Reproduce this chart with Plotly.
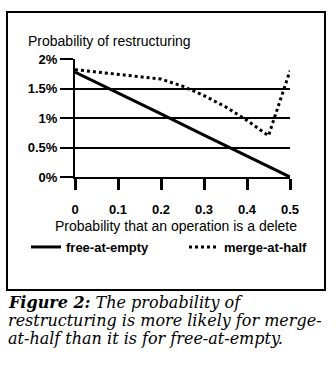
import plotly.graph_objects as go

# ---- data ----
x_free = [0, 0.1, 0.2, 0.3, 0.4, 0.5]
y_free = [0.0178, 0.0143, 0.0107, 0.0071, 0.0036, 0.0]

x_merge = [0, 0.05, 0.1, 0.15, 0.2, 0.25, 0.3, 0.35, 0.4, 0.45, 0.5]
y_merge = [0.0182, 0.0178, 0.0174, 0.0170, 0.0166, 0.0154, 0.0138, 0.0119, 0.0096, 0.0070, 0.0180]

y_ticks = [0, 0.005, 0.01, 0.015, 0.02]
y_tick_labels = ["0%", "0.5%", "1%", "1.5%", "2%"]
x_ticks = [0, 0.1, 0.2, 0.3, 0.4, 0.5]
x_tick_labels = ["0", "0.1", "0.2", "0.3", "0.4", "0.5"]

chart_title = "Probability of restructuring"
x_title = "Probability that an operation is a delete"
caption_lines = [
    "<b><i>Figure 2:</i></b><i> The probability of</i>",
    "<i>restructuring is more likely for merge-</i>",
    "<i>at-half than it is for free-at-empty.</i>",
]

# ---- layout geometry (pixels) ----
W, H = 336, 368
L, R, T, B = 75, 290, 59, 177


def px_x(p):
    return (p - L) / (R - L)


def px_y(p):
    return (B - p) / (B - T)


SANS = "Liberation Sans, Arial, sans-serif"
SERIF = "DejaVu Serif, serif"

legend_font = dict(family=SANS, size=13, color="black", weight="bold")

fig = go.Figure()
fig.add_trace(go.Scatter(x=x_free, y=y_free, mode="lines", name="free-at-empty",
                         line=dict(color="black", width=3), legend="legend"))
fig.add_trace(go.Scatter(x=x_merge, y=y_merge, mode="lines", name="merge-at-half",
                         line=dict(color="black", width=3, dash="dot"), legend="legend2"))

fig.update_layout(
    width=W, height=H,
    margin=dict(l=L, r=W - R, t=T, b=H - B, autoexpand=False),
    paper_bgcolor="white", plot_bgcolor="white",
    showlegend=True,
    legend=dict(xref="paper", yref="paper",
                x=px_x(26), y=px_y(247), xanchor="left", yanchor="middle",
                font=legend_font, bgcolor="rgba(0,0,0,0)", itemwidth=30),
    legend2=dict(xref="paper", yref="paper",
                 x=px_x(184), y=px_y(247), xanchor="left", yanchor="middle",
                 font=legend_font, bgcolor="rgba(0,0,0,0)", itemwidth=30),
    font=dict(family=SANS, color="black"),
)

fig.update_xaxes(range=[0, 0.5], tickvals=x_ticks, ticktext=x_tick_labels,
                 showgrid=False, zeroline=False, showline=True, linecolor="black", linewidth=2,
                 ticks="outside", ticklen=11, tickwidth=3, tickcolor="black",
                 ticklabelstandoff=8,
                 tickfont=dict(family=SANS, size=13, color="black", weight="bold"))
fig.update_yaxes(range=[0, 0.02], tickvals=y_ticks, ticktext=y_tick_labels,
                 showgrid=True, gridcolor="black", gridwidth=2, zeroline=False,
                 showline=True, linecolor="black", linewidth=2,
                 ticks="outside", ticklen=13, tickwidth=2, tickcolor="black",
                 tickfont=dict(family=SANS, size=13, color="black", weight="bold"))

# border box
fig.add_shape(type="rect", xref="paper", yref="paper",
              x0=px_x(7), x1=px_x(325), y0=px_y(290), y1=px_y(12),
              line=dict(color="black", width=2), fillcolor="rgba(0,0,0,0)", layer="below")

# chart title
fig.add_annotation(text=chart_title, xref="paper", yref="paper",
                   x=px_x(26), y=px_y(41), xanchor="left", yanchor="middle",
                   showarrow=False, font=dict(family=SANS, size=14, color="black"))
# x title
fig.add_annotation(text=x_title, xref="paper", yref="paper",
                   x=px_x(176), y=px_y(226), xanchor="center", yanchor="middle",
                   showarrow=False, font=dict(family=SANS, size=14, color="black"))

# caption
for i, line in enumerate(caption_lines):
    fig.add_annotation(text=line, xref="paper", yref="paper",
                       x=px_x(6), y=px_y(302 + 18 * i), xanchor="left", yanchor="middle",
                       showarrow=False, font=dict(family=SERIF, size=16, color="black"))

fig.write_html("out.html")
